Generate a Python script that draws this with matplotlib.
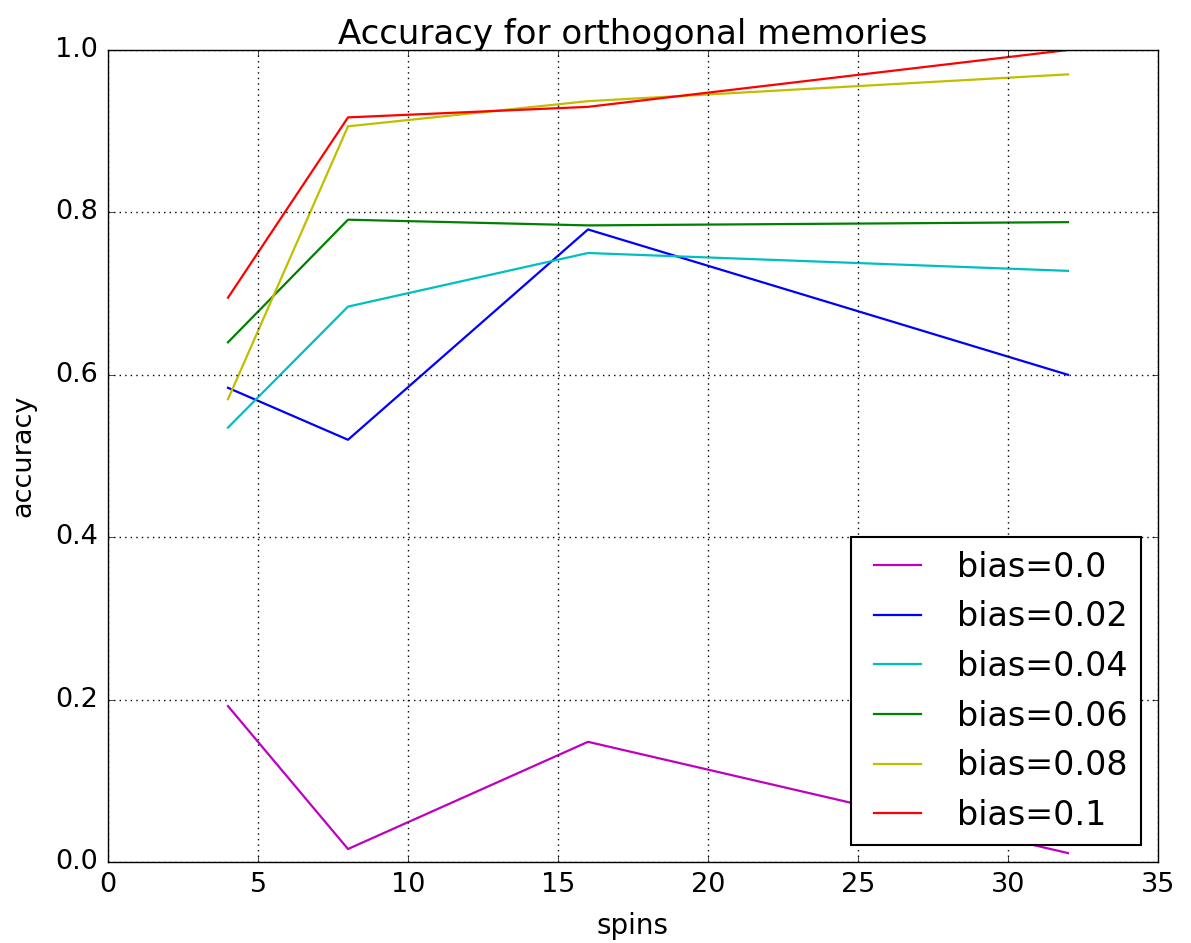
import matplotlib
matplotlib.use("Agg")
import matplotlib.pyplot as plt

plt.style.use("classic")

spins = [4, 8, 16, 32]
labels = ["bias=0.0", "bias=0.02", "bias=0.04", "bias=0.06", "bias=0.08", "bias=0.1"]
acc_00 = [0.192, 0.016, 0.148, 0.011]
acc_02 = [0.584, 0.520, 0.779, 0.600]
acc_04 = [0.535, 0.684, 0.750, 0.728]
acc_06 = [0.640, 0.791, 0.784, 0.788]
acc_08 = [0.570, 0.906, 0.937, 0.970]
acc_10 = [0.695, 0.917, 0.930, 1.000]
colors = ["m", "b", "c", "g", "y", "r"]

fig = plt.figure(figsize=(11.91, 9.43), dpi=100, facecolor="white")
ax = fig.add_axes([108/1191, 81/943, 1050/1191, 812/943])

for ys, lab, col in zip([acc_00, acc_02, acc_04, acc_06, acc_08, acc_10], labels, colors):
    ax.plot(spins, ys, color=col, label=lab, linewidth=1.6)

ax.set_xlim(0, 35)
ax.set_ylim(0, 1.0)
ax.set_xticks([0, 5, 10, 15, 20, 25, 30, 35])
ax.set_yticks([0.0, 0.2, 0.4, 0.6, 0.8, 1.0])
ax.grid(True, color="k", linestyle=":", linewidth=1)
ax.tick_params(labelsize=19.5, pad=7)
ax.set_title("Accuracy for orthogonal memories", fontsize=24.5, pad=4)
ax.set_xlabel("spins", fontsize=20, labelpad=10)
ax.set_ylabel("accuracy", fontsize=19.5, labelpad=14)
leg = ax.legend(loc="lower right", fontsize=24, frameon=True, borderaxespad=0.5)
leg.get_frame().set_linewidth(1.5)

fig.savefig("out.png", dpi=100, facecolor="white")
